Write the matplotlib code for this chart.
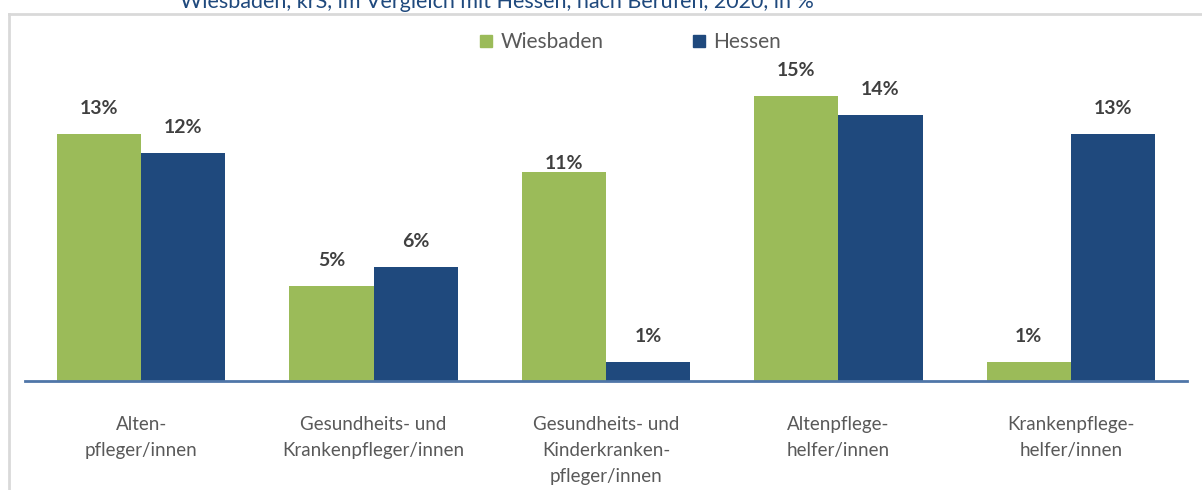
import matplotlib
matplotlib.use("Agg")
import matplotlib.pyplot as plt
from matplotlib.lines import Line2D
import numpy as np

categories = ["Alten-\npfleger/innen",
              "Gesundheits- und\nKrankenpfleger/innen",
              "Gesundheits- und\nKinderkranken-\npfleger/innen",
              "Altenpflege-\nhelfer/innen",
              "Krankenpflege-\nhelfer/innen"]
wiesbaden = [13, 5, 11, 15, 1]
hessen = [12, 6, 1, 14, 13]
series_names = ["Wiesbaden", "Hessen"]
title = "Wiesbaden, krS, im Vergleich mit Hessen, nach Berufen, 2020, in %"

green = "#9BBB59"
blue = "#1F497D"
W, H = 1202, 490
fig = plt.figure(figsize=(W / 100, H / 100), dpi=100)
fig.patch.set_facecolor("white")

ax = fig.add_axes([25 / W, 1 - 381 / H, 1162 / W, 342 / H])
x = np.arange(len(categories))
bw = 0.362
b1 = ax.bar(x - bw / 2, wiesbaden, bw, color=green, label=series_names[0])
b2 = ax.bar(x + bw / 2, hessen, bw, color=blue, label=series_names[1])
ax.set_xlim(-0.5, len(categories) - 0.5)
ax.set_ylim(0, 18)
for s in ["top", "left", "right"]:
    ax.spines[s].set_visible(False)
ax.spines["bottom"].set_color("#4F76A8")
ax.spines["bottom"].set_linewidth(2)
ax.set_yticks([])
ax.set_xticks(x)
ax.set_xticklabels(categories, fontfamily="Lato", fontsize=13.5, color="#595959",
                   linespacing=1.65, va="top")
ax.tick_params(axis="x", length=0, pad=25)

for bars, vals in ((b1, wiesbaden), (b2, hessen)):
    for rect, v in zip(bars, vals):
        off = 12
        if bars is b1 and v == 11:
            off = 0
        ax.annotate(f"{v}%", (rect.get_x() + rect.get_width() / 2, v),
                    xytext=(0, off), textcoords="offset points",
                    ha="center", va="bottom", fontfamily="Lato",
                    fontweight="bold", fontsize=14, color="#404040",
                    annotation_clip=False)

fig.legend(handles=[Line2D([], [], marker="s", ls="", color=green, markersize=9),
                    Line2D([], [], marker="s", ls="", color=blue, markersize=9)],
           labels=series_names, loc="center", bbox_to_anchor=(630 / W, 1 - 42 / H),
           ncol=2, frameon=False, prop={"family": "Lato", "size": 15},
           labelcolor="#595959", handlelength=0.7, handletextpad=0.35,
           columnspacing=4.2)

# chart border (top and left)
fig.add_artist(Line2D([9 / W, 9 / W], [0, 1 - 14 / H], transform=fig.transFigure,
                      color="#D9D9D9", lw=2))
fig.add_artist(Line2D([9 / W, 1], [1 - 14 / H, 1 - 14 / H], transform=fig.transFigure,
                      color="#D9D9D9", lw=2))

fig.text(497 / W, 1 - 8 / H, title, ha="center", va="baseline", fontfamily="Lato",
         fontsize=15.5, color="#1F497D")

fig.savefig("out.png", dpi=100, facecolor="white")
